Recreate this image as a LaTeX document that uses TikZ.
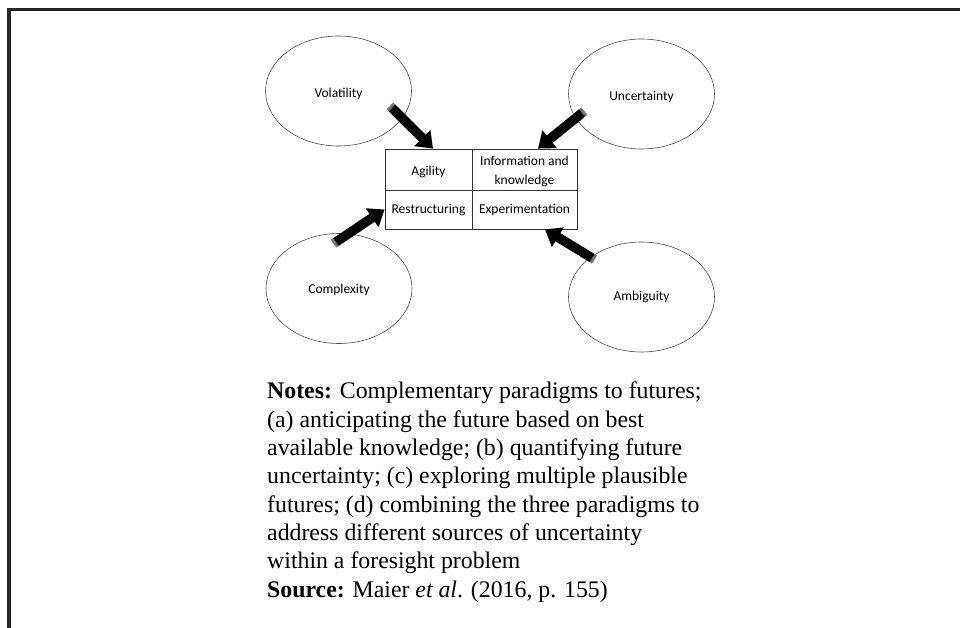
\documentclass[tikz,border=0pt]{standalone}
\usepackage{fontspec}
\setmainfont{Liberation Serif}
\newfontfamily\diagfont{Carlito}
\usetikzlibrary{arrows.meta,calc,shapes.geometric}
% lower a label inside its node without changing the node's size
\newcommand{\nudge}[2]{\raisebox{-#1}[\height][\depth]{#2}}

\begin{document}
\begin{tikzpicture}[x=1pt,y=-1pt,
  frameline/.style={line width=3.5pt,draw=black!85},
  factor/.style={ellipse,draw=black!70,line width=0.6pt,inner sep=0pt,
    minimum width=146pt,minimum height=110pt,
    font=\diagfont\fontsize{13.5}{16}\selectfont},
  cell/.style={rectangle,draw=black!80,line width=0.8pt,inner sep=0pt,
    align=center,font=\diagfont\fontsize{13.5}{19.5}\selectfont},
  leftcell/.style={cell,minimum width=87pt},
  rightcell/.style={cell,minimum width=105pt},
  blockarrow/.style={line width=9.5pt,black,-{Triangle[width=22pt,length=15pt]}},
  bevel/.style={line width=9.5pt,black!55}
]
\useasboundingbox (0,0) rectangle (960,628);
\fill[white] (0,0) rectangle (960,628);

% page frame (top and left rules)
\draw[frameline] (9,628) -- (9,9.5) -- (960,9.5);

% the four sources
\node[factor] (vol) at (338.5,91)  {\nudge{2.5pt}{Volatility}};
\node[factor] (unc) at (641.5,94)  {\nudge{3pt}{Uncertainty}};
\node[factor] (cpx) at (339,288.5) {\nudge{1.5pt}{Complexity}};
\node[factor] (amb) at (641.5,297) {Ambiguity};

% the 2x2 table of responses
\node[leftcell,minimum height=41pt]  (agi) at (428.5,169.5) {\nudge{2.5pt}{Agility}};
\node[rightcell,minimum height=41pt] (inf) at (524.5,169.5)
  {\nudge{1.5pt}{\begin{tabular}{@{}c@{}}Information and\\knowledge\end{tabular}}};
\node[leftcell,minimum height=39pt]  (res) at (428.5,209.5) {\nudge{1pt}{Restructuring}};
\node[rightcell,minimum height=39pt] (exp) at (524.5,209.5) {\nudge{0.5pt}{Experimentation}};

% arrow tails inside the ellipses
\coordinate (t1) at (392,108);
\coordinate (t2) at (582,113);
\coordinate (t3) at (336,242);
\coordinate (t4) at (592,258);

% arrow tips on the table
\coordinate (h1) at ([xshift=4.5pt]agi.north);
\coordinate (h2) at ([xshift=13.5pt]inf.north);
\coordinate (h3) at (res.west);
\coordinate (h4) at ([xshift=20.5pt]exp.south);

\foreach \t/\h in {t1/h1,t2/h2,t3/h3,t4/h4}{
  \draw[bevel] ($(\t)!-3pt!(\h)$) -- (\t);
  \draw[blockarrow] (\t) -- (\h);
}

% notes below the figure (anchored on the baseline of the last line)
\node[anchor=base west,align=left,inner sep=0pt,
  font=\fontsize{23.8}{28.3}\selectfont] (notes) at (267,597)
  {\textbf{Notes:} Complementary paradigms to futures;\\
   (a) anticipating the future based on best\\
   available knowledge; (b) quantifying future\\
   uncertainty; (c) exploring multiple plausible\\
   futures; (d) combining the three paradigms to\\
   address different sources of uncertainty\\
   within a foresight problem\\
   \textbf{Source:} Maier \textit{et al}. (2016, p. 155)};
\end{tikzpicture}
\end{document}
